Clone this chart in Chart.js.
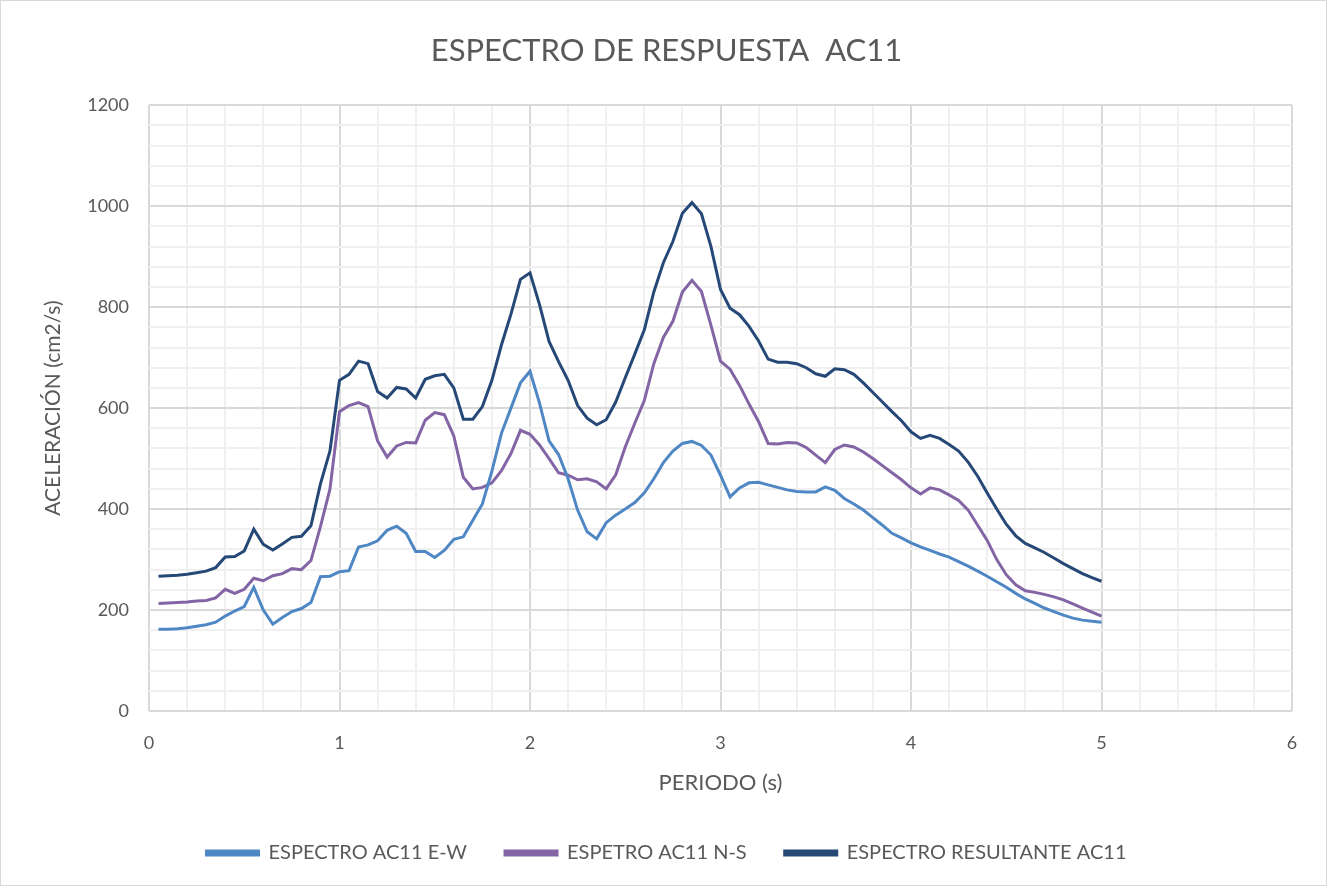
<!DOCTYPE html>
<html>
<head>
<meta charset="utf-8">
<script src="https://cdn.jsdelivr.net/npm/chart.js@4/dist/chart.umd.min.js"></script>
<style>
  html, body { margin: 0; padding: 0; background: #fff; }
  #wrap { width: 1327px; height: 886px; box-sizing: border-box; border: 1px solid #d9d9d9; }
</style>
</head>
<body>
<div id="wrap"><canvas id="spectrum" width="1325" height="884"></canvas></div>
<script>
// Periods (s)
const periods = [
  0.05, 0.10, 0.15, 0.20, 0.25, 0.30, 0.35, 0.40, 0.45, 0.50,
  0.55, 0.60, 0.65, 0.70, 0.75, 0.80, 0.85, 0.90, 0.95, 1.00,
  1.05, 1.10, 1.15, 1.20, 1.25, 1.30, 1.35, 1.40, 1.45, 1.50,
  1.55, 1.60, 1.65, 1.70, 1.75, 1.80, 1.85, 1.90, 1.95, 2.00,
  2.05, 2.10, 2.15, 2.20, 2.25, 2.30, 2.35, 2.40, 2.45, 2.50,
  2.55, 2.60, 2.65, 2.70, 2.75, 2.80, 2.85, 2.90, 2.95, 3.00,
  3.05, 3.10, 3.15, 3.20, 3.25, 3.30, 3.35, 3.40, 3.45, 3.50,
  3.55, 3.60, 3.65, 3.70, 3.75, 3.80, 3.85, 3.90, 3.95, 4.00,
  4.05, 4.10, 4.15, 4.20, 4.25, 4.30, 4.35, 4.40, 4.45, 4.50,
  4.55, 4.60, 4.65, 4.70, 4.75, 4.80, 4.85, 4.90, 4.95, 5.00
];

// Acceleration, component E-W
const accelEW = [
  162, 162, 163, 165, 168, 171, 176, 188, 198, 207,
  245, 200, 172, 185, 197, 203, 215, 266, 267, 276,
  278, 325, 329, 337, 358, 366, 352, 316, 316, 304,
  318, 340, 345, 378, 410, 475, 550, 600, 650, 673,
  610, 535, 508, 460, 398, 355, 341, 373, 388, 400,
  413, 432, 460, 492, 515, 530, 534, 526, 507, 467,
  424, 442, 452, 453, 448, 443, 438, 435, 434, 434,
  444, 437, 421, 410, 398, 383, 368, 352, 343, 333,
  325, 318, 311, 305, 296, 287, 277, 267, 256, 245,
  233, 222, 213, 204, 197, 190, 184, 180, 178, 176
];

// Acceleration, component N-S
const accelNS = [
  213, 214, 215, 216, 218, 219, 224, 241, 233, 241,
  263, 258, 268, 272, 282, 280, 298, 365, 440, 593,
  605, 611, 603, 535, 503, 525, 532, 531, 576, 591,
  587, 545, 463, 440, 443, 452, 476, 510, 556, 548,
  527, 500, 472, 467, 458, 460, 454, 440, 468, 523,
  570, 615, 688, 740, 772, 830, 853, 831, 764, 693,
  677, 645, 608, 573, 530, 529, 532, 531, 522, 507,
  492, 518, 527, 523, 513, 500, 486, 472, 458, 442,
  430, 442, 438, 428, 417, 398, 368, 338, 300, 270,
  250, 238, 235, 231, 226, 220, 212, 204, 196, 188
];

// Resultant spectrum
const accelRes = [
  267, 268, 269, 271, 274, 277, 284, 305, 306, 317,
  360, 330, 319, 331, 344, 346, 367, 450, 515, 655,
  667, 693, 688, 633, 620, 641, 638, 620, 657, 664,
  667, 640, 578, 578, 603, 655, 725, 786, 855, 868,
  805, 732, 692, 655, 605, 580, 567, 577, 612, 660,
  707, 755, 830, 888, 930, 986, 1007, 985, 920, 835,
  798, 785, 762, 733, 697, 691, 691, 688, 680, 668,
  663, 678, 676, 667, 650, 631, 612, 593, 575, 553,
  540, 546, 540, 528, 515, 493, 465, 432, 400, 370,
  347, 332, 323, 314, 303, 292, 282, 272, 264, 257
];

const seriesNames = ['ESPECTRO AC11 E-W', 'ESPETRO AC11 N-S', 'ESPECTRO RESULTANTE AC11'];
const seriesColors = ['#4f87c5', '#8365a5', '#264877'];

const FONT = 'Lato, "Open Sans", sans-serif';
const TEXT = '#595959';

const toPoints = vals => vals.map((v, i) => ({ x: periods[i], y: v }));
const near = (v, step) => Math.abs(v / step - Math.round(v / step)) < 1e-6;

new Chart(document.getElementById('spectrum'), {
  type: 'line',
  data: {
    datasets: [accelEW, accelNS, accelRes].map((vals, i) => ({
      label: seriesNames[i],
      data: toPoints(vals),
      borderColor: seriesColors[i],
      backgroundColor: seriesColors[i],
      borderWidth: 3,
      pointRadius: 0,
      tension: 0,
      fill: false
    }))
  },
  options: {
    responsive: false,
    animation: false,
    layout: { padding: { left: 40, right: 34, top: 0, bottom: 12 } },
    plugins: {
      title: {
        display: true,
        text: 'ESPECTRO DE RESPUESTA  AC11',
        color: TEXT,
        font: { family: FONT, size: 31, weight: 'normal' },
        padding: { top: 31, bottom: 36 }
      },
      legend: {
        position: 'bottom',
        labels: {
          color: TEXT,
          font: { family: FONT, size: 20 },
          boxWidth: 52,
          boxHeight: 4,
          padding: 38
        }
      },
      tooltip: { enabled: false }
    },
    scales: {
      x: {
        type: 'linear',
        min: 0,
        max: 6,
        ticks: {
          stepSize: 0.2,
          autoSkip: false,
          maxRotation: 0,
          color: TEXT,
          font: { family: FONT, size: 18 },
          padding: 21,
          callback: v => near(v, 1) ? String(Math.round(v)) : ''
        },
        grid: {
          color: c => near(c.tick.value, 1) ? '#d9d9d9' : '#f0f0f0',
          lineWidth: 2,
          drawTicks: false
        },
        border: { display: false },
        title: {
          display: true,
          text: 'PERIODO (s)',
          color: TEXT,
          font: { family: FONT, size: 22 },
          padding: { top: -5, bottom: 9 }
        }
      },
      y: {
        min: 0,
        max: 1200,
        ticks: {
          stepSize: 40,
          autoSkip: false,
          color: TEXT,
          font: { family: FONT, size: 18 },
          padding: 20,
          callback: v => near(v, 200) ? String(v) : ''
        },
        grid: {
          color: c => near(c.tick.value, 200) ? '#d9d9d9' : '#f0f0f0',
          lineWidth: 2,
          drawTicks: false
        },
        border: { display: false },
        title: {
          display: true,
          text: 'ACELERACIÓN (cm2/s)',
          color: TEXT,
          font: { family: FONT, size: 21 },
          padding: { top: 0, bottom: 10 }
        },
        afterFit: scale => { scale.width = 108; }
      }
    }
  }
});
</script>
</body>
</html>
